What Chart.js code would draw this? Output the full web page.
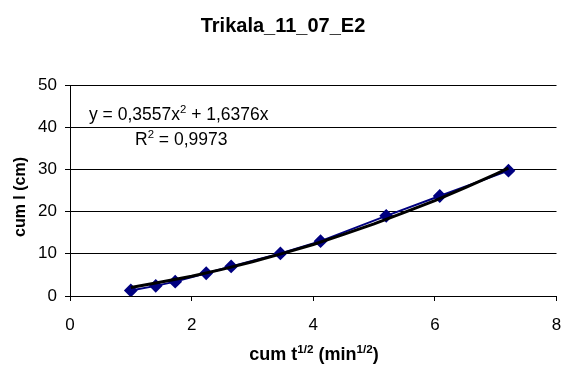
<!DOCTYPE html>
<html>
<head>
<meta charset="utf-8">
<script src="https://cdn.jsdelivr.net/npm/chart.js@4/dist/chart.umd.min.js"></script>
<style>
  html, body { margin: 0; padding: 0; background: #fff; }
  #wrap { width: 564px; height: 367px; }
</style>
</head>
<body>
<div id="wrap"><canvas id="c" width="564" height="367"></canvas></div>
<script>
// measured points: cum t^1/2 (min^1/2) vs cum l (cm)
const xValues = [1.00, 1.41, 1.73, 2.24, 2.65, 3.46, 4.12, 5.20, 6.08, 7.21];
const yValues = [1.3, 2.4, 3.4, 5.4, 7.0, 10.1, 13.0, 19.0, 23.7, 29.7];

// trend line as it is drawn in the picture
const trendX = [1.0, 1.5, 2.0, 2.5, 3.0, 3.5, 4.0, 4.5, 5.0, 5.5, 6.0, 6.5, 7.0, 7.21];
const trendY = [2.0, 3.3, 4.7, 6.3, 8.1, 10.1, 12.2, 14.6, 17.1, 19.8, 22.6, 25.7, 28.9, 30.3];

const xTicks = [0, 2, 4, 6, 8];
const yTicks = [0, 10, 20, 30, 40, 50];

const chartTitle = 'Trikala_11_07_E2';
const yTitle = 'cum l (cm)';
const xTitle = ['cum t', '1/2', ' (min', '1/2', ')'];
const eqText = ['y = 0,3557x', '2', ' + 1,6376x'];
const r2Text = ['R', '2', ' = 0,9973'];

const FONT = '"Liberation Sans", Arial, sans-serif';

// draws text pieces, every second piece raised as superscript
function drawRich(ctx, parts, x, y, size, bold, align) {
  const w = parts.map((p, i) => {
    ctx.font = (bold ? 'bold ' : '') + (i % 2 ? size * 0.65 : size) + 'px ' + FONT;
    return ctx.measureText(p).width;
  });
  const total = w.reduce((a, b) => a + b, 0);
  let cx = align === 'center' ? x - total / 2 : x;
  parts.forEach((p, i) => {
    ctx.font = (bold ? 'bold ' : '') + (i % 2 ? size * 0.65 : size) + 'px ' + FONT;
    ctx.fillText(p, cx, i % 2 ? y - size * 0.38 : y);
    cx += w[i];
  });
}

const labelsPlugin = {
  id: 'labels',
  afterDraw(chart) {
    const ctx = chart.ctx;
    ctx.save();
    ctx.fillStyle = '#000';
    ctx.textBaseline = 'alphabetic';
    ctx.textAlign = 'left';
    ctx.font = 'bold 20px ' + FONT;
    const tw = ctx.measureText(chartTitle).width;
    ctx.fillText(chartTitle, 283 - tw / 2, 32);
    drawRich(ctx, xTitle, 314, 360, 18, true, 'center');
    drawRich(ctx, eqText, 89, 120, 17.5, false, 'left');
    drawRich(ctx, r2Text, 135, 145, 17.5, false, 'left');
    // y axis title, rotated
    ctx.translate(21, 197);
    ctx.rotate(-Math.PI / 2);
    ctx.font = 'bold 16px ' + FONT;
    ctx.textAlign = 'center';
    ctx.textBaseline = 'middle';
    ctx.fillText(yTitle, 0, 0);
    ctx.restore();
  }
};

new Chart(document.getElementById('c'), {
  type: 'scatter',
  data: {
    datasets: [
      {
        label: 'trend',
        data: trendX.map((x, i) => ({ x: x, y: trendY[i] })),
        showLine: true,
        borderColor: '#000',
        borderWidth: 3,
        pointRadius: 0,
        tension: 0,
        order: 1
      },
      {
        label: 'cum l',
        data: xValues.map((x, i) => ({ x: x, y: yValues[i] })),
        showLine: true,
        borderColor: '#000080',
        borderWidth: 2,
        backgroundColor: '#000080',
        pointStyle: 'rectRot',
        pointRadius: 5.5,
        order: 2
      }
    ]
  },
  options: {
    responsive: false,
    animation: false,
    layout: { padding: { top: 85, right: 6, left: 0, bottom: 0 } },
    plugins: {
      legend: { display: false },
      tooltip: { enabled: false },
      title: { display: false }
    },
    scales: {
      x: {
        type: 'linear',
        min: 0, max: 8,
        afterBuildTicks: s => { s.ticks = xTicks.map(v => ({ value: v })); },
        afterFit: s => { s.height = 71; s.paddingRight = 0; s.paddingLeft = 0; },
        grid: { drawOnChartArea: false, color: '#000', tickLength: 5 },
        border: { color: '#000', width: 1 },
        ticks: { color: '#000', font: { family: FONT, size: 17 }, padding: 14, maxRotation: 0 }
      },
      y: {
        min: 0, max: 50,
        afterBuildTicks: s => { s.ticks = yTicks.map(v => ({ value: v })); },
        afterFit: s => { s.width = 70; s.paddingTop = 0; s.paddingBottom = 0; },
        grid: { color: '#000', tickLength: 5 },
        border: { color: '#000', width: 1 },
        ticks: { color: '#000', font: { family: FONT, size: 17 }, padding: 8 }
      }
    }
  },
  plugins: [labelsPlugin]
});
</script>
</body>
</html>
